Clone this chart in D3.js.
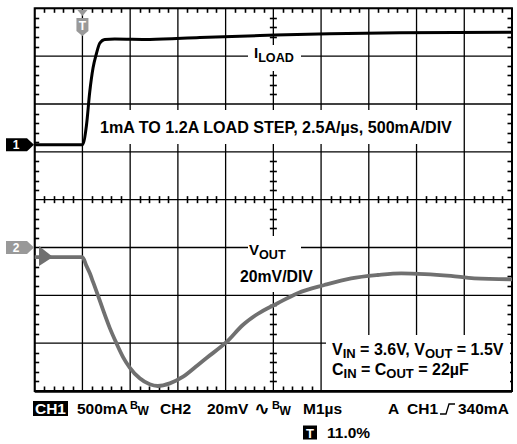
<!DOCTYPE html>
<html><head><meta charset="utf-8">
<script src="https://cdn.jsdelivr.net/npm/d3@7"></script>
<style>
html,body{margin:0;padding:0;background:#fff;}
svg{display:block;font-family:"Liberation Sans",Arial,Helvetica,sans-serif;font-weight:bold;}
</style></head><body>
<svg id="c" width="517" height="444"></svg>
<script>
// ---- data ----
const iLoadTimeUs = [-1, 0, 0.084, 0.153, 0.222, 0.293, 0.362, 0.467, 0.677, 1.41, 2.46, 3.72, 5.18, 6.65, 9.0];
const iLoadAmps   = [0, 0, 0.20, 0.55, 0.80, 0.95, 1.06, 1.10, 1.105, 1.10, 1.12, 1.14, 1.16, 1.17, 1.175];
const vOutTimeUs = [-1, 0, 0.084, 0.153, 0.222, 0.327, 0.432, 0.572, 0.712, 0.851, 0.991, 1.20, 1.41, 1.58, 1.83, 2.11, 2.42, 2.60, 3.02, 3.36, 3.67, 4.09, 4.51, 5.07, 5.63, 6.19, 6.68, 7.17, 7.72, 8.21, 9.0];
const vOutMv     = [-4.0, -4.0, -7.7, -10.7, -14.4, -20.1, -26.1, -33.6, -40.0, -45.8, -50.2, -54.7, -57.2, -57.9, -56.8, -54.0, -49.1, -46.2, -39.5, -32.4, -27.8, -23.3, -19.1, -15.7, -12.9, -11.5, -10.8, -11.1, -11.9, -12.9, -13.3];
const timeDomainUs = [-1, 9];      // M1µs, 10 divisions
const divDomain = [-4, 4];         // 8 vertical divisions
const ch1RefDiv = 1.15, ch1PerDiv = 0.5;   // 500mA/DIV
const ch2RefDiv = -1,   ch2PerDiv = 20;    // 20mV/DIV

const svg = d3.select("#c");
const L = 34.7, R = 512, T = 8.3, B = 391;
const x = d3.scaleLinear().domain(timeDomainUs).range([L, R]);
const y = d3.scaleLinear().domain(divDomain).range([B, T]);
const yI = v => y(ch1RefDiv + v / ch1PerDiv);
const yV = v => y(ch2RefDiv + v / ch2PerDiv);

const g = svg.append("g");
// major grid
const xMajor = d3.range(timeDomainUs[0], timeDomainUs[1] + 0.001, 1);
const yMajor = d3.range(divDomain[0], divDomain[1] + 0.001, 1);
g.selectAll(".vx").data(xMajor).enter().append("line")
  .attr("x1", d => x(d)).attr("x2", d => x(d)).attr("y1", T).attr("y2", B)
  .attr("stroke", "#000").attr("stroke-width", 1.3);
g.selectAll(".hy").data(yMajor).enter().append("line")
  .attr("y1", d => y(d)).attr("y2", d => y(d)).attr("x1", L).attr("x2", R)
  .attr("stroke", "#000").attr("stroke-width", 1.3);
// frame
g.append("rect").attr("x", L).attr("y", T).attr("width", R - L).attr("height", B - T)
  .attr("fill", "none").attr("stroke", "#000").attr("stroke-width", 2);
g.append("line").attr("x1", L).attr("x2", R).attr("y1", B + 0.5).attr("y2", B + 0.5).attr("stroke", "#000").attr("stroke-width", 2.5);
// minor ticks (5 per division)
const xMinor = d3.range(1, 50).filter(i => i % 5 !== 0).map(i => timeDomainUs[0] + i * 0.2);
const yMinor = d3.range(1, 40).filter(i => i % 5 !== 0).map(i => divDomain[0] + i * 0.2);
const tk = 4.5, tc = 3.5;
const xc = x(4), yc = y(0);
const tickG = svg.append("g").attr("class", "ticks");
xMinor.forEach(v => {
  const xx = Math.round(x(v)) + 0.5;
  [[T, T + tk], [B, B - tk], [yc - tc, yc + tc]].forEach(s => {
    tickG.append("line").attr("x1", xx).attr("x2", xx).attr("y1", s[0]).attr("y2", s[1])
      .style("stroke", "#000").style("stroke-width", "1.6px");
  });
});
yMinor.forEach(v => {
  const yy = Math.round(y(v)) + 0.5;
  [[L, L + tk], [R, R - tk], [xc - tc, xc + tc]].forEach(s => {
    tickG.append("line").attr("y1", yy).attr("y2", yy).attr("x1", s[0]).attr("x2", s[1])
      .style("stroke", "#000").style("stroke-width", "1.6px");
  });
});

// label background boxes
const boxes = [[248, 45, 53, 26], [98, 110, 357, 34], [248, 236, 53, 28], [238, 264, 77, 28], [326, 335, 184, 55]];
svg.selectAll(".bx").data(boxes).enter().append("rect")
  .attr("x", d => d[0]).attr("y", d => d[1]).attr("width", d => d[2]).attr("height", d => d[3]).attr("fill", "#fff");

// traces
const iData = iLoadTimeUs.map((t, i) => [t, iLoadAmps[i]]);
const vData = vOutTimeUs.map((t, i) => [t, vOutMv[i]]);
svg.append("path").datum(vData)
  .attr("d", d3.line().x(d => x(d[0])).y(d => yV(d[1])).curve(d3.curveMonotoneX))
  .attr("fill", "none").attr("stroke", "#707070").attr("stroke-width", 3.8).attr("stroke-linejoin", "round");
svg.append("path").datum(iData)
  .attr("d", d3.line().x(d => x(d[0])).y(d => yI(d[1])).curve(d3.curveMonotoneX))
  .attr("fill", "none").attr("stroke", "#000").attr("stroke-width", 3).attr("stroke-linejoin", "round");
// ch2 blob at left
const y2 = yV(vOutMv[0]);
svg.append("path").attr("d", `M39,${y2 - 11} L39,${y2 + 9} L53,${y2} Z`).attr("fill", "#707070");

// channel markers
function chMarker(yy, label, fill) {
  svg.append("path").attr("d", `M6,${yy - 6.5} H27 L34,${yy} L27,${yy + 6.5} H6 Z`).attr("fill", fill);
  svg.append("text").attr("x", 16).attr("y", yy + 4.5).attr("text-anchor", "middle")
    .attr("fill", "#fff").attr("font-size", 12).text(label);
}
chMarker(yI(0), "1", "#000");
chMarker(yV(0), "2", "#999");

// trigger marker
const xt = x(0);
svg.append("path").attr("d", `M${xt - 5},10 L${xt + 5},10 L${xt},16 Z`).attr("fill", "#999");
svg.append("path").attr("d", `M${xt - 6},18 H${xt + 6} V31 L${xt},36 L${xt - 6},31 Z`).attr("fill", "#999");
svg.append("text").attr("x", xt).attr("y", 30).attr("text-anchor", "middle").attr("fill", "#fff").attr("font-size", 12).text("T");

// texts
function sub(x0, y0, main, subTxt, size, subSize) {
  const t = svg.append("text").attr("x", x0).attr("y", y0).attr("font-size", size);
  t.append("tspan").text(main);
  t.append("tspan").attr("font-size", subSize).attr("dy", 4).text(subTxt);
  return t;
}
sub(254, 58, "I", "LOAD", 15, 12.6);
svg.append("text").attr("x", 100).attr("y", 133).attr("font-size", 16.1).text("1mA TO 1.2A LOAD STEP, 2.5A/µs, 500mA/DIV");
sub(249, 255, "V", "OUT", 15, 12.6);
svg.append("text").attr("x", 240).attr("y", 282).attr("font-size", 15.8).text("20mV/DIV");

const t1 = svg.append("text").attr("x", 332).attr("y", 355).attr("font-size", 16);
t1.append("tspan").text("V");
t1.append("tspan").attr("font-size", 13).attr("dy", 3).text("IN");
t1.append("tspan").attr("dy", -3).text(" = 3.6V, V");
t1.append("tspan").attr("font-size", 13).attr("dy", 3).text("OUT");
t1.append("tspan").attr("dy", -3).text(" = 1.5V");
const t2 = svg.append("text").attr("x", 332).attr("y", 375).attr("font-size", 16);
t2.append("tspan").text("C");
t2.append("tspan").attr("font-size", 13).attr("dy", 3).text("IN");
t2.append("tspan").attr("dy", -3).text(" = C");
t2.append("tspan").attr("font-size", 13).attr("dy", 3).text("OUT");
t2.append("tspan").attr("dy", -3).text(" = 22µF");

// bottom status line
const by = 414, fs = 15.5;
svg.append("rect").attr("x", 33).attr("y", by - 13).attr("width", 35).attr("height", 15).attr("fill", "#000");
svg.append("text").attr("x", 50.5).attr("y", by).attr("text-anchor", "middle").attr("fill", "#fff").attr("font-size", fs).text("CH1");
svg.append("text").attr("x", 77).attr("y", by).attr("font-size", fs).text("500mA");
function bw(x0) {
  svg.append("text").attr("x", x0).attr("y", by - 5).attr("font-size", 11).text("B");
  svg.append("text").attr("x", x0 + 7.5).attr("y", by + 1).attr("font-size", 12).text("W");
}
bw(130);
svg.append("text").attr("x", 160).attr("y", by).attr("font-size", fs).text("CH2");
svg.append("text").attr("x", 207).attr("y", by).attr("font-size", fs).text("20mV");
svg.append("text").attr("x", 254).attr("y", by + 1).attr("font-size", 19).attr("font-family", "DejaVu Sans").text("∿");
bw(272);
svg.append("text").attr("x", 303).attr("y", by).attr("font-size", fs).text("M1µs");
svg.append("text").attr("x", 388).attr("y", by).attr("font-size", fs).text("A");
svg.append("text").attr("x", 407).attr("y", by).attr("font-size", fs).text("CH1");
svg.append("path").attr("d", `M440,${by} H446 L449,${by - 10} H455`).attr("fill", "none").attr("stroke", "#000").attr("stroke-width", 1.3);
svg.append("text").attr("x", 458).attr("y", by).attr("font-size", fs).text("340mA");
const by2 = 438;
svg.append("rect").attr("x", 303).attr("y", by2 - 12.5).attr("width", 14).attr("height", 14).attr("fill", "#000");
svg.append("text").attr("x", 310).attr("y", by2).attr("text-anchor", "middle").attr("fill", "#fff").attr("font-size", 13).text("T");
svg.append("text").attr("x", 327).attr("y", by2).attr("font-size", fs).text("11.0%");
</script>
</body></html>
